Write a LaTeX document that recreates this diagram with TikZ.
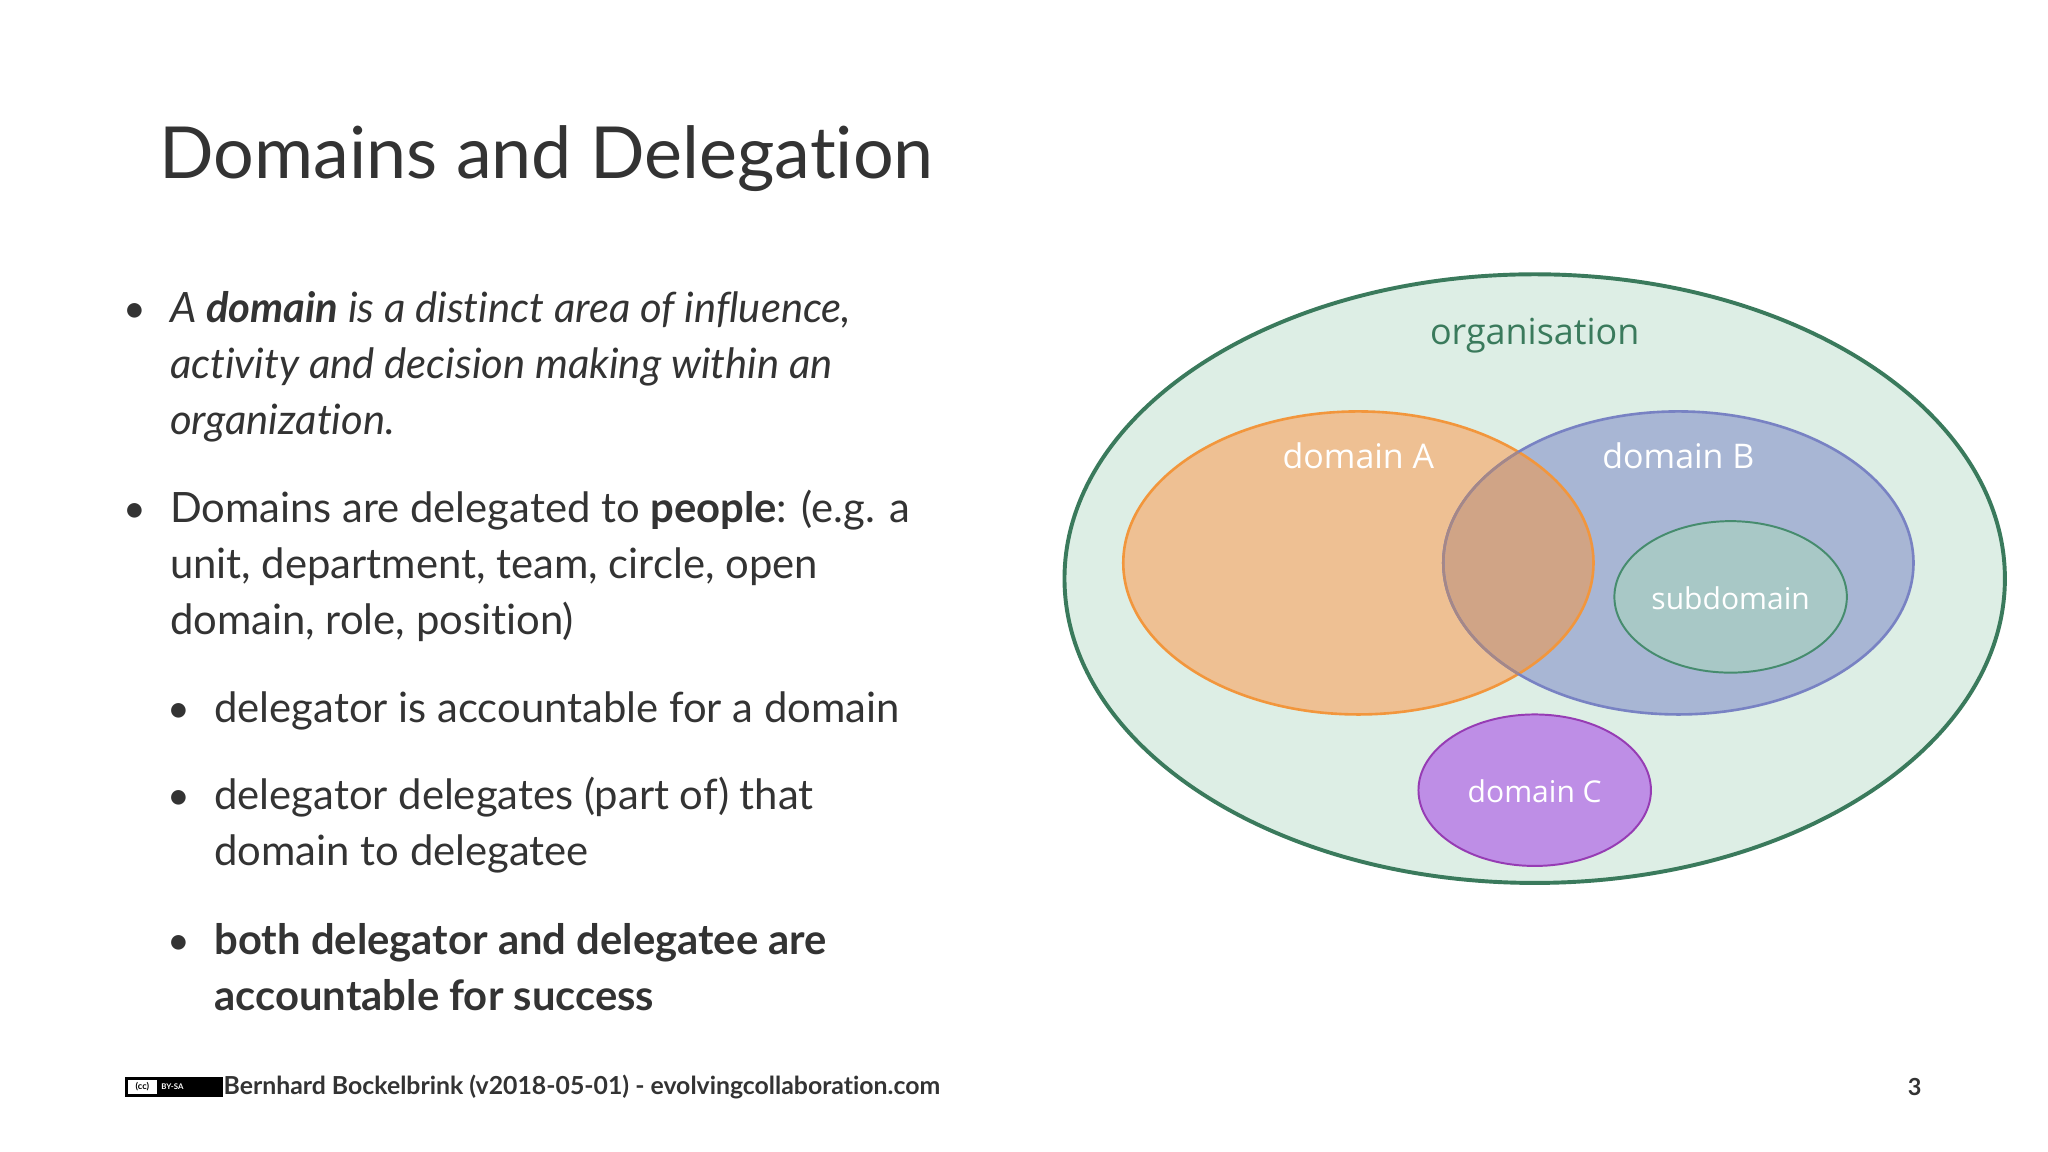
\documentclass[tikz,border=0pt]{standalone}
\usepackage{fontspec}
\setmainfont[RawFeature={-liga}]{Lato}
\newfontfamily\osans{Open Sans}
\definecolor{txt}{RGB}{51,51,51}
\definecolor{orgfill}{RGB}{221,238,229}
\definecolor{orgline}{RGB}{58,122,92}
\definecolor{afill}{RGB}{238,192,147}
\definecolor{aline}{RGB}{242,150,60}
\definecolor{bfill}{RGB}{168,182,212}
\definecolor{bline}{RGB}{120,130,195}
\definecolor{abfill}{RGB}{208,164,134}
\definecolor{abline}{RGB}{165,135,135}
\definecolor{sfill}{RGB}{168,200,198}
\definecolor{sline}{RGB}{70,140,110}
\definecolor{cfill}{RGB}{190,142,230}
\definecolor{cline}{RGB}{150,60,180}
\tikzset{
  body/.style={anchor=base west,font=\fontsize{32}{38}\selectfont,text=txt,inner sep=0},
  bul/.style={anchor=base,font=\fontsize{30}{36}\selectfont,text=txt,inner sep=0},
  lab/.style={font=\osans\fontsize{26}{30}\selectfont,text=white,inner sep=0},
}
\begin{document}
\begin{tikzpicture}[x=1pt,y=-1pt]
\useasboundingbox (0,0) rectangle (1568,882);
\fill[white] (0,0) rectangle (1568,882);
\node[anchor=base west,inner sep=0,text=txt,font=\fontsize{55}{60}\selectfont] (title) at (122,137) {Domains and Delegation};
% bullets
\foreach \y in {247,400}{\node[bul] at (103,\y) {•};}
\foreach \y in {553,620,731}{\node[bul] at (137,\y) {•};}
\node[body] (l1) at (130,247) {\itshape A \textbf{domain} is a distinct area of influence,};
\node[body] (l2) at (130,290) {\itshape activity and decision making within an};
\node[body] (l3) at (130,333) {\itshape organization.};
\node[body] (l4) at (130,400) {Domains are delegated to \textbf{people}: (e.g. a};
\node[body] (l5) at (130,443) {unit, department, team, circle, open};
\node[body] (l6) at (130,486) {domain, role, position)};
\node[body] (l7) at (164,553) {delegator is accountable for a domain};
\node[body] (l8) at (164,620) {delegator delegates (part of) that};
\node[body] (l9) at (164,663) {domain to delegatee};
\node[body] (l10) at (164,731) {\bfseries both delegator and delegatee are};
\node[body] (l11) at (164,774) {\bfseries accountable for success};
% diagram
\draw[orgline,fill=orgfill,line width=3] (1175,443) ellipse [x radius=360,y radius=233];
\fill[afill] (1040,431) ellipse [x radius=180,y radius=116];
\fill[bfill] (1285,431) ellipse [x radius=180,y radius=116];
\begin{scope}
\clip (1040,431) ellipse [x radius=180,y radius=116];
\fill[abfill] (1285,431) ellipse [x radius=180,y radius=116];
\end{scope}
\draw[aline,line width=2] (1040,431) ellipse [x radius=180,y radius=116];
\draw[bline,line width=2] (1285,431) ellipse [x radius=180,y radius=116];
\begin{scope}
\clip (1040,431) ellipse [x radius=180,y radius=116];
\draw[abline,line width=2] (1285,431) ellipse [x radius=180,y radius=116];
\end{scope}
\draw[sline,fill=sfill,line width=1.5] (1325,457) ellipse [x radius=89,y radius=58];
\draw[cline,fill=cfill,line width=1.5] (1175,605) ellipse [x radius=89,y radius=58];
\node[lab,text=orgline,font=\osans\fontsize{27.5}{32}\selectfont] (org) at (1175,257) {organisation};
\node[lab] (a) at (1040,349) {domain A};
\node[lab] (b) at (1285,349) {domain B};
\node[lab,font=\osans\fontsize{23}{27}\selectfont] (s) at (1325,458) {subdomain};
\node[lab,font=\osans\fontsize{23}{27}\selectfont] (c) at (1175,606) {domain C};
% footer
\draw[black,fill=black] (96,825) rectangle (170,839);
\fill[white] (98,826.5) rectangle (120,837.5);
\node[inner sep=0,font=\fontsize{7}{8}\selectfont\bfseries] (cc) at (109,832) {(cc)};
\node[inner sep=0,text=white,font=\fontsize{6}{7}\selectfont\bfseries] (bysa) at (132,832) {BY-SA};
\node[anchor=west,inner sep=0,text=txt,font=\fontsize{19}{22}\selectfont\bfseries] (foot) at (171,832) {Bernhard Bockelbrink (v2018-05-01) - evolvingcollaboration.com};
\node[inner sep=0,text=txt,font=\fontsize{18}{20}\selectfont\bfseries] (num) at (1466,832) {3};
\end{tikzpicture}
\end{document}
